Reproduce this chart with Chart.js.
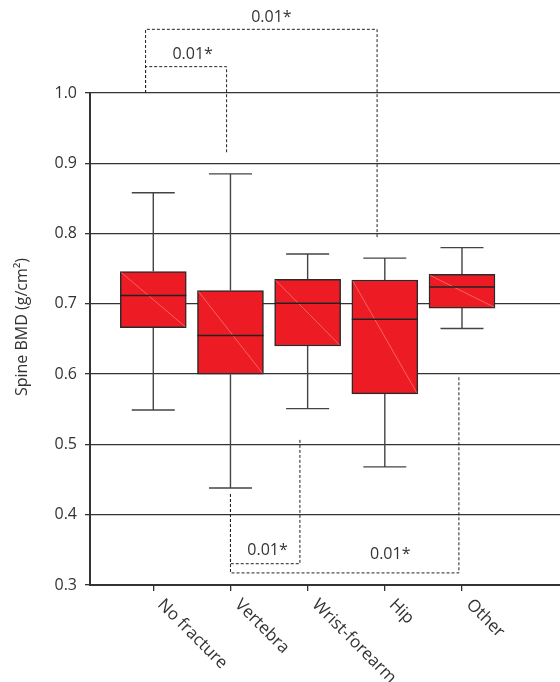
<!DOCTYPE html>
<html>
<head>
<meta charset="utf-8">
<script src="https://cdn.jsdelivr.net/npm/chart.js@4.4.1/dist/chart.umd.min.js"></script>
<style>
  html, body { margin: 0; padding: 0; background: #fff; }
  #wrap { width: 560px; height: 682px; }
</style>
</head>
<body>
<div id="wrap"><canvas id="bmdChart"></canvas></div>
<script>
const groups = ['No fracture', 'Vertebra', 'Wrist-forearm', 'Hip', 'Other'];
const whiskerLow = [0.549, 0.438, 0.551, 0.468, 0.665];
const q1 = [0.666, 0.600, 0.640, 0.572, 0.694];
const median = [0.712, 0.655, 0.701, 0.678, 0.724];
const q3 = [0.746, 0.719, 0.735, 0.734, 0.742];
const whiskerHigh = [0.858, 0.885, 0.771, 0.765, 0.780];
const yTitle = 'Spine BMD (g/cm²)';

// significance brackets, x in group units (1 = No fracture), y in g/cm2
const brackets = [
  { label: '0.01*', x1: 0.9, y1: 1.0, x2: 3.9, y2: 0.792, yBar: 1.0906, tx: 2.53, ty: 1.107 },
  { label: '0.01*', x1: 0.9, y1: 1.0, x2: 1.95, y2: 0.913, yBar: 1.0375, tx: 1.51, ty: 1.055 },
  { label: '0.01*', x1: 2.0, y1: 0.4295, x2: 2.9, y2: 0.508, yBar: 0.3303, tx: 2.48, ty: 0.349 },
  { label: '0.01*', x1: 2.0, y1: 0.4295, x2: 4.96, y2: 0.596, yBar: 0.3172, tx: 4.07, ty: 0.344 }
];

const ink = '#333';
const font = '"Open Sans", "Noto Sans", sans-serif';

const boxParts = {
  id: 'boxParts',
  afterDatasetsDraw(chart) {
    const { ctx, scales: { x, y } } = chart;
    const meta = chart.getDatasetMeta(0);
    ctx.save();
    groups.forEach((g, i) => {
      const bar = meta.data[i];
      const cx = x.getPixelForValue(i + 1);
      const half = bar.width / 2;
      const top = y.getPixelForValue(q3[i]);
      const bot = y.getPixelForValue(q1[i]);

      // whiskers
      ctx.strokeStyle = '#444';
      ctx.lineWidth = 1.4;
      ctx.beginPath();
      ctx.moveTo(cx, top);
      ctx.lineTo(cx, y.getPixelForValue(whiskerHigh[i]));
      ctx.moveTo(cx - 21.5, y.getPixelForValue(whiskerHigh[i]));
      ctx.lineTo(cx + 21.5, y.getPixelForValue(whiskerHigh[i]));
      ctx.moveTo(cx, bot);
      ctx.lineTo(cx, y.getPixelForValue(whiskerLow[i]));
      ctx.moveTo(cx - 21.5, y.getPixelForValue(whiskerLow[i]));
      ctx.lineTo(cx + 21.5, y.getPixelForValue(whiskerLow[i]));
      ctx.stroke();

      // faint diagonal seam inside the box
      ctx.strokeStyle = 'rgba(255,150,150,0.8)';
      ctx.lineWidth = 0.7;
      ctx.beginPath();
      ctx.moveTo(cx - half + 1, top + 1);
      ctx.lineTo(cx + half - 1, bot - 1);
      ctx.stroke();

      // median
      const my = y.getPixelForValue(median[i]);
      ctx.strokeStyle = '#222';
      ctx.lineWidth = 1.5;
      ctx.beginPath();
      ctx.moveTo(cx - half, my);
      ctx.lineTo(cx + half, my);
      ctx.stroke();
    });
    ctx.restore();
  },
  afterDraw(chart) {
    const { ctx, scales: { x, y } } = chart;
    ctx.save();
    ctx.fillStyle = ink;

    // y title, drawn by hand so it sits where the original has it
    ctx.save();
    ctx.font = '16px ' + font;
    ctx.textAlign = 'center';
    ctx.textBaseline = 'middle';
    ctx.translate(22, 327);
    ctx.rotate(-Math.PI / 2);
    ctx.fillText(yTitle, 0, 0);
    ctx.restore();

    // rotated group labels
    ctx.font = '17px ' + font;
    ctx.textAlign = 'left';
    ctx.textBaseline = 'middle';
    groups.forEach((g, i) => {
      ctx.save();
      ctx.translate(x.getPixelForValue(i + 1) + 7, x.top + 17);
      ctx.rotate(Math.PI / 4);
      ctx.fillText(g, 0, 0);
      ctx.restore();
    });

    // brackets
    ctx.strokeStyle = '#222';
    ctx.lineWidth = 1;
    ctx.setLineDash([3, 2]);
    brackets.forEach(b => {
      ctx.beginPath();
      ctx.moveTo(x.getPixelForValue(b.x1), y.getPixelForValue(b.y1));
      ctx.lineTo(x.getPixelForValue(b.x1), y.getPixelForValue(b.yBar));
      ctx.lineTo(x.getPixelForValue(b.x2), y.getPixelForValue(b.yBar));
      ctx.lineTo(x.getPixelForValue(b.x2), y.getPixelForValue(b.y2));
      ctx.stroke();
    });
    ctx.setLineDash([]);
    ctx.font = '16px ' + font;
    ctx.textAlign = 'center';
    brackets.forEach(b => {
      ctx.fillText(b.label, x.getPixelForValue(b.tx), y.getPixelForValue(b.ty));
    });
    ctx.restore();
  }
};

const ctx = document.getElementById('bmdChart').getContext('2d');

new Chart(ctx, {
  type: 'bar',
  data: {
    datasets: [{
      data: groups.map((g, i) => ({ x: i + 1, y: [q1[i], q3[i]] })),
      backgroundColor: '#ed1c24',
      borderColor: '#2a2a2a',
      borderWidth: 1.5,
      borderSkipped: false,
      barThickness: 66
    }]
  },
  options: {
    responsive: true,
    maintainAspectRatio: false,
    animation: false,
    layout: { padding: { top: 93, right: 0, left: 0, bottom: 0 } },
    plugins: {
      legend: { display: false },
      tooltip: { enabled: false }
    },
    scales: {
      x: {
        type: 'linear',
        offset: false,
        min: 0.18,
        max: 6.27,
        afterBuildTicks: axis => { axis.ticks = groups.map((g, i) => ({ value: i + 1 })); },
        afterFit: axis => { axis.height = 97; },
        ticks: { display: false },
        grid: { offset: false, drawOnChartArea: false, drawTicks: true, tickLength: 6, color: ink, lineWidth: 1.3 },
        border: { color: ink, width: 2 }
      },
      y: {
        min: 0.3,
        max: 1.0,
        afterBuildTicks: axis => {
          axis.ticks = [0.3, 0.4, 0.5, 0.6, 0.7, 0.8, 0.9, 1.0].map(v => ({ value: v }));
        },
        afterFit: axis => { axis.width = 90; },
        ticks: {
          padding: 8,
          color: ink,
          font: { size: 16, family: font },
          callback: v => v.toFixed(1)
        },
        grid: { color: ink, lineWidth: 1.3, tickLength: 5 },
        border: { color: ink, width: 2 }
      }
    }
  },
  plugins: [boxParts]
});
</script>
</body>
</html>
